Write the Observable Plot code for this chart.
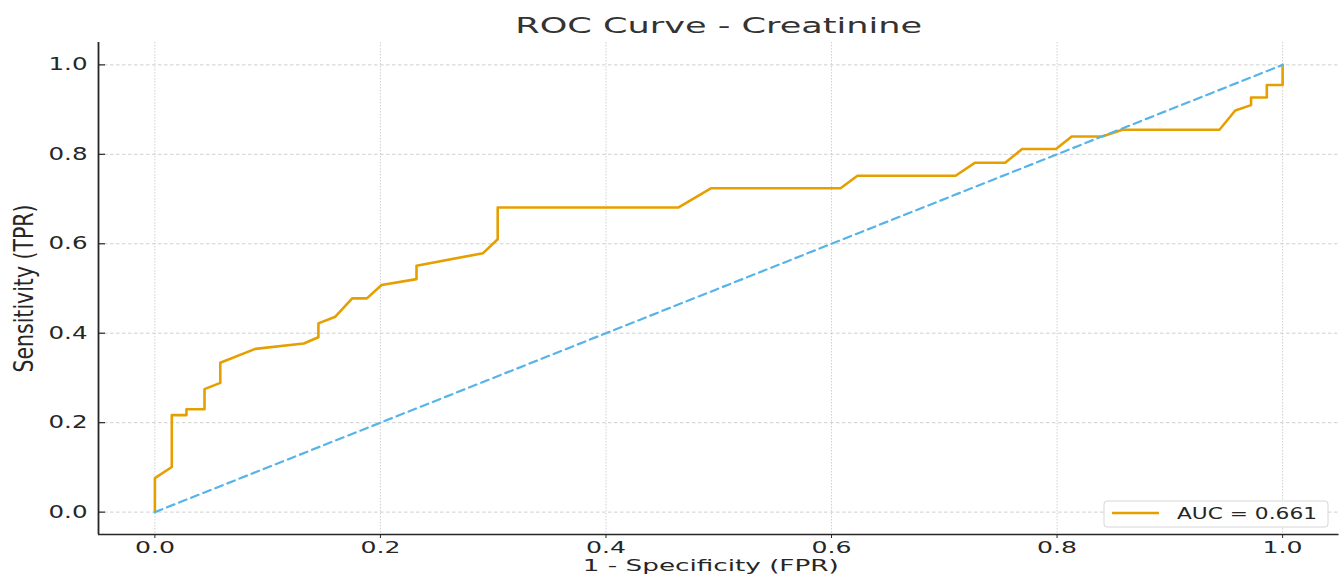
<!DOCTYPE html>
<html><head><meta charset="utf-8">
<script src="https://cdn.jsdelivr.net/npm/d3@7"></script>
<script src="https://cdn.jsdelivr.net/npm/@observablehq/plot@0.6"></script>
<style>
html,body{margin:0;padding:0;background:#fff;}
#chart{width:1341px;height:579px;}
</style></head><body><div id="chart"></div>
<script>
// ROC curve points
const fpr = [0, 0, 0.015, 0.015, 0.028, 0.028, 0.044, 0.044, 0.058, 0.058, 0.089, 0.132, 0.145, 0.145, 0.160, 0.175, 0.188, 0.201, 0.232, 0.232, 0.291, 0.304, 0.304, 0.464, 0.493, 0.608, 0.623, 0.710, 0.727, 0.754, 0.769, 0.799, 0.813, 0.840, 0.858, 0.944, 0.958, 0.972, 0.972, 0.986, 0.986, 1.0, 1.0];
const tpr = [0, 0.076, 0.101, 0.217, 0.217, 0.230, 0.230, 0.275, 0.289, 0.334, 0.365, 0.377, 0.391, 0.422, 0.437, 0.478, 0.478, 0.508, 0.521, 0.551, 0.579, 0.610, 0.681, 0.681, 0.724, 0.724, 0.752, 0.752, 0.781, 0.781, 0.812, 0.812, 0.840, 0.840, 0.855, 0.855, 0.898, 0.910, 0.927, 0.927, 0.955, 0.955, 1.0];
const diagX = [0, 1];
const diagY = [0, 1];
const xTicks = [0, 0.2, 0.4, 0.6, 0.8, 1.0];
const yTicks = [0, 0.2, 0.4, 0.6, 0.8, 1.0];
const domainX = [-0.05, 1.05];
const domainY = [-0.05, 1.05];
const titleText = "ROC Curve - Creatinine";
const xLabel = "1 - Specificity (FPR)";
const yLabel = "Sensitivity (TPR)";
const legendLabel = "AUC = 0.661";

const W = 1341, H = 579, mL = 98, mR = 2.5, mT = 42, mB = 45;
const frameW = W - mL - mR;
const ink = "#262626";

const roc = fpr.map((x, i) => ({x, y: tpr[i]}));
const diag = diagX.map((x, i) => ({x, y: diagY[i]}));
const fmt = d3.format(".1f");

const plot = Plot.plot({
  width: W, height: H,
  marginLeft: mL, marginRight: mR, marginTop: mT, marginBottom: mB,
  style: {fontFamily: "'DejaVu Sans', sans-serif", background: "#fff", color: ink},
  x: {domain: domainX},
  y: {domain: domainY},
  marks: [
    Plot.gridY(yTicks, {stroke: "#c4c4c4", strokeOpacity: 1, strokeWidth: 0.8, strokeDasharray: "3.5,2.5"}),
    Plot.gridX(xTicks, {stroke: "#c4c4c4", strokeOpacity: 1, strokeWidth: 0.8, strokeDasharray: "1.5,1.5"}),
    Plot.line(roc, {x: "x", y: "y", stroke: "#E69F00", strokeWidth: 2.6}),
    Plot.line(diag, {x: "x", y: "y", stroke: "#56B4E9", strokeWidth: 2.2, strokeDasharray: "8,5"}),
    Plot.axisX(xTicks, {tickSize: 4, tickPadding: 3, tickFormat: fmt, fontSize: 16, label: null, stroke: ink}),
    Plot.axisY(yTicks, {tickSize: 0, tickPadding: 11, tickFormat: fmt, fontSize: 17, label: null}),
    Plot.ruleY(yTicks, {insetRight: frameW - 7, stroke: ink, strokeWidth: 1.2}),
    Plot.ruleX([domainX[0]], {stroke: ink, strokeWidth: 1.8}),
    Plot.ruleY([domainY[0]], {stroke: ink, strokeWidth: 1.6}),
    Plot.text([titleText], {text: d => d, frameAnchor: "top", textAnchor: "middle", lineAnchor: "middle", dy: -16, fontSize: 21, fill: "#333"}),
    Plot.text([xLabel], {text: d => d, frameAnchor: "bottom", textAnchor: "middle", lineAnchor: "middle", dy: 31, dx: -8, fontSize: 16, fill: ink}),
    Plot.text([yLabel], {text: d => d, frameAnchor: "left", textAnchor: "middle", lineAnchor: "middle", rotate: -90, dx: -74, fontSize: 26, fill: ink})
  ]
});

const svg = d3.select(plot);
const stretch = (sel, len) => sel.attr("textLength", len).attr("lengthAdjust", "spacingAndGlyphs");
stretch(svg.selectAll('g[aria-label="x-axis tick label"] text'), 40);
stretch(svg.selectAll('g[aria-label="y-axis tick label"] text'), 39);
const byText = (t) => svg.selectAll("text").filter(function () { return this.textContent === t; });
stretch(byText(titleText), 407);
stretch(byText(xLabel), 256);
stretch(byText(yLabel), 168);

// legend box (matplotlib-style, lower right)
const lg = svg.append("g").attr("aria-label", "legend");
lg.append("rect").attr("x", 1104).attr("y", 501).attr("width", 224).attr("height", 26)
  .attr("rx", 3).attr("fill", "#fff").attr("fill-opacity", 0.85).attr("stroke", "#d6d6d6").attr("stroke-width", 1);
lg.append("line").attr("x1", 1112).attr("x2", 1159).attr("y1", 513).attr("y2", 513)
  .attr("stroke", "#E69F00").attr("stroke-width", 2.6);
stretch(lg.append("text").attr("x", 1177).attr("y", 518.5).attr("font-size", 16).attr("fill", ink)
  .attr("text-anchor", "start").attr("font-family", "'DejaVu Sans', sans-serif").text(legendLabel), 140);

document.getElementById("chart").appendChild(plot);
</script></body></html>
